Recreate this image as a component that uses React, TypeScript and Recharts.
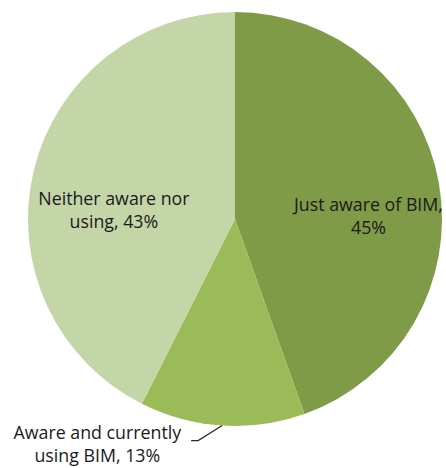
import { PieChart, Pie, Cell } from 'recharts';

const categories = ['Just aware of BIM', 'Aware and currently using BIM', 'Neither aware nor using'];
const shares = [45, 13, 43];
const colors = ['#7f9b48', '#9bbb59', '#c4d6a8'];

const data = categories.map((name, i) => ({ name, value: shares[i] }));

// where each label sits, as fractions of the outer radius from the centre
const labelLayout = [
  { fx: 0.645, fy: -0.04, breakAt: 4, leader: false },
  { fx: -0.665, fy: 1.065, breakAt: 3, leader: true },
  { fx: -0.585, fy: -0.07, breakAt: 3, leader: false },
];

const RAD = Math.PI / 180;

function renderLabel(props: any) {
  const { cx, cy, outerRadius, midAngle, index, name, value } = props;
  const lay = labelLayout[index];
  const words = `${name}, ${value}%`.split(' ');
  const lines = [words.slice(0, lay.breakAt).join(' '), words.slice(lay.breakAt).join(' ')];
  const x = cx + lay.fx * outerRadius;
  const y = cy + lay.fy * outerRadius;
  let leader = null;
  if (lay.leader) {
    const ex = cx + outerRadius * Math.cos(-midAngle * RAD);
    const ey = cy + outerRadius * Math.sin(-midAngle * RAD);
    leader = (
      <polyline
        points={`${ex},${ey} ${ex - 24},${ey + 15} ${ex - 31},${ey + 15}`}
        fill="none"
        stroke="#262626"
        strokeWidth={1.2}
      />
    );
  }
  return (
    <g>
      {leader}
      <text x={x} y={y} textAnchor="middle" fill="#1a1a1a" fontSize={17.8} fontFamily="'Open Sans', sans-serif">
        {lines.map((l, i) => (
          <tspan key={i} x={x} dy={i === 0 ? 0 : 23}>
            {l}
          </tspan>
        ))}
      </text>
    </g>
  );
}

export default function App() {
  return (
    <div style={{ position: 'absolute', left: 0, top: 0, width: 446, height: 468, background: '#fff' }}>
      <PieChart width={446} height={468} margin={{ top: 0, right: 0, bottom: 0, left: 0 }}>
        <Pie
          data={data}
          dataKey="value"
          nameKey="name"
          cx={235}
          cy={219}
          outerRadius={207}
          startAngle={90}
          endAngle={-270}
          stroke="none"
          label={renderLabel}
          labelLine={false}
          isAnimationActive={false}
        >
          {data.map((d, i) => (
            <Cell key={d.name} fill={colors[i]} />
          ))}
        </Pie>
      </PieChart>
    </div>
  );
}
